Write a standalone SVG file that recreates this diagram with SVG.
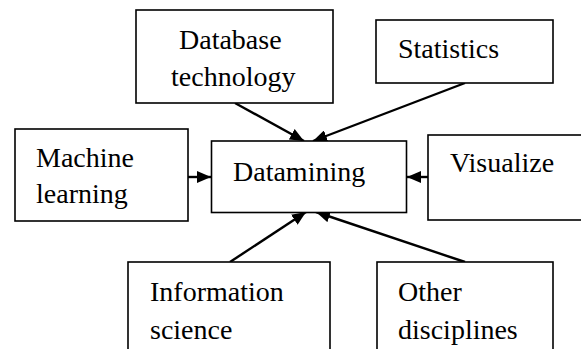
<svg xmlns="http://www.w3.org/2000/svg" width="581" height="349" viewBox="0 0 581 349">
  <style>
    .box { fill: #fff; stroke: #000; stroke-width: 1.6; }
    text { font-family: 'Liberation Serif', 'Times New Roman', Tinos, 'DejaVu Serif', serif; font-size: 28px; fill: #000; }
    .edge { stroke: #000; stroke-width: 2.4; fill: none; marker-end: url(#head); }
  </style>
  <defs>
    <marker id="head" viewBox="0 0 14 12" refX="14" refY="6" markerWidth="14" markerHeight="12" markerUnits="userSpaceOnUse" orient="auto">
      <path d="M0,0 L14,6 L0,12 Z" fill="#000"/>
    </marker>
  </defs>

  <g id="connectors">
    <line class="edge" x1="235" y1="103" x2="304" y2="141"/>
    <line class="edge" x1="465" y1="83" x2="313" y2="141"/>
    <line class="edge" x1="188" y1="177" x2="211" y2="177"/>
    <line class="edge" x1="428" y1="177" x2="407" y2="177"/>
    <line class="edge" x1="230" y1="262" x2="306" y2="212"/>
    <line class="edge" x1="465" y1="262" x2="316" y2="212"/>
  </g>

  <g id="database" font-family="Liberation Serif, serif">
    <rect class="box" x="136" y="10" width="197" height="93"/>
    <text x="179" y="49">Database</text>
    <text x="171" y="86">technology</text>
  </g>

  <g id="statistics" font-family="Liberation Serif, serif">
    <rect class="box" x="376" y="20" width="177" height="63"/>
    <text x="398" y="58">Statistics</text>
  </g>

  <g id="machine-learning" font-family="Liberation Serif, serif">
    <rect class="box" x="15" y="129" width="173" height="92"/>
    <text x="36" y="167">Machine</text>
    <text x="36" y="203">learning</text>
  </g>

  <g id="datamining" font-family="Liberation Serif, serif">
    <rect class="box" x="211.5" y="141" width="195" height="71.5"/>
    <text x="233" y="181">Datamining</text>
  </g>

  <g id="visualize" font-family="Liberation Serif, serif">
    <rect class="box" x="428" y="135" width="165" height="85"/>
    <text x="450" y="172">Visualize</text>
  </g>

  <g id="information-science" font-family="Liberation Serif, serif">
    <rect class="box" x="128" y="262" width="202" height="100"/>
    <text x="150" y="301">Information</text>
    <text x="150" y="339">science</text>
  </g>

  <g id="other-disciplines" font-family="Liberation Serif, serif">
    <rect class="box" x="377" y="262" width="176" height="100"/>
    <text x="398" y="301">Other</text>
    <text x="398" y="339">disciplines</text>
  </g>
</svg>
